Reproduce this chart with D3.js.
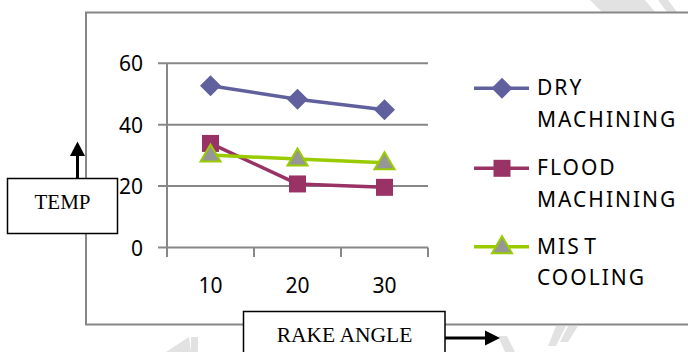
<!DOCTYPE html>
<html>
<head>
<meta charset="utf-8">
<script src="https://cdn.jsdelivr.net/npm/d3@7/dist/d3.min.js"></script>
<style>
  html, body { margin: 0; padding: 0; background: #fff; }
  svg { display: block; }
</style>
</head>
<body>
<svg id="chart" width="688" height="352"></svg>
<script>
// ---- data ----
const categories = ["10", "20", "30"];
const dryMachining = [52.7, 48.3, 44.9];
const floodMachining = [33.9, 20.7, 19.6];
const mistCooling = [30.1, 28.8, 27.6];
const yTicks = [0, 20, 40, 60];
const seriesNames = [["DRY", "MACHINING"], ["FLOOD", "MACHINING"], ["MIS T", "COOLING"]];
const xTitle = "RAKE ANGLE";
const yTitle = "TEMP";

const svg = d3.select("#chart");

// watermark fragments (light gray)
const wm = svg.append("g").attr("fill", "#e2e2e2");
[
  [[590,0],[645,0],[655,12],[602,12]],
  [[658,0],[668,0],[677,12],[667,12]],
  [[166,352],[189,337],[191,352]],
  [[191,337],[198,337],[198,352],[191,352]],
  [[498,336],[507,336],[515,352],[505,352]],
  [[556,326],[566,326],[556,346],[548,346]],
  [[568,326],[578,326],[568,342],[560,342]]
].forEach(p => wm.append("polygon").attr("points", p.map(d => d.join(",")).join(" ")));

// outer frame
svg.append("rect")
  .attr("x", 86).attr("y", 12.5).attr("width", 640).attr("height", 312)
  .attr("fill", "none").attr("stroke", "#878787").attr("stroke-width", 2);

// scales
const x = d3.scaleBand().domain(categories).range([167, 428]).paddingInner(0).paddingOuter(0);
const y = d3.scaleLinear().domain([0, 60]).range([247.5, 63.3]);

const gridColor = "#878787";
const plot = svg.append("g");

// gridlines (incl. baseline)
plot.selectAll("line.grid").data(yTicks).join("line")
  .attr("x1", 158).attr("x2", 428)
  .attr("y1", d => y(d)).attr("y2", d => y(d))
  .attr("stroke", gridColor).attr("stroke-width", 2);

// y axis
const yAxis = d3.axisLeft(y).tickValues(yTicks).tickSize(0).tickPadding(0).tickFormat(d3.format("d"));
const gy = plot.append("g").attr("transform", "translate(167,0)").call(yAxis);
gy.select(".domain").remove();
gy.selectAll("text")
  .attr("x", -24).attr("dy", "0.36em")
  .attr("font-family", "'Noto Sans', sans-serif").attr("font-size", 21).attr("fill", "#000");
plot.append("line").attr("x1", 167).attr("x2", 167).attr("y1", y(60)).attr("y2", 257)
  .attr("stroke", gridColor).attr("stroke-width", 2);

// x axis (ticks at category boundaries)
const bounds = categories.map(c => x(c)).concat([x(categories[categories.length - 1]) + x.bandwidth()]);
plot.selectAll("line.xtick").data(bounds.slice(1)).join("line")
  .attr("x1", d => d).attr("x2", d => d).attr("y1", y(0)).attr("y2", 257)
  .attr("stroke", gridColor).attr("stroke-width", 2);
const xAxis = d3.axisBottom(x).tickSize(0).tickPadding(0);
const gx = plot.append("g").attr("transform", `translate(0,${y(0)})`).call(xAxis);
gx.select(".domain").remove();
gx.selectAll("text")
  .attr("y", 45).attr("dy", 0)
  .attr("font-family", "'Noto Sans', sans-serif").attr("font-size", 21).attr("fill", "#000");

// series
const series = [
  { values: dryMachining, color: "#60609e", marker: "diamond" },
  { values: floodMachining, color: "#993366", marker: "square" },
  { values: mistCooling, color: "#99cc00", marker: "triangle" }
];

function drawMarker(g, type, cx, cy, s) {
  if (type === "diamond") {
    const r = 10.5;
    g.append("polygon").attr("points", `${cx},${cy - r} ${cx + r},${cy} ${cx},${cy + r} ${cx - r},${cy}`)
      .attr("fill", s.color);
  } else if (type === "square") {
    const h = 8.5;
    g.append("rect").attr("x", cx - h).attr("y", cy - h).attr("width", 2 * h).attr("height", 2 * h)
      .attr("fill", s.color);
  } else {
    const w = 10, ht = 17;
    g.append("polygon")
      .attr("points", `${cx},${cy - ht * 0.62} ${cx + w},${cy + ht * 0.38} ${cx - w},${cy + ht * 0.38}`)
      .attr("fill", "#969696").attr("stroke", s.color).attr("stroke-width", 2);
  }
}

const line = d3.line().x((d, i) => x(categories[i]) + x.bandwidth() / 2).y(d => y(d));
series.forEach(s => {
  const g = plot.append("g");
  g.append("path").datum(s.values).attr("d", line)
    .attr("fill", "none").attr("stroke", s.color).attr("stroke-width", 3.5);
  s.values.forEach((v, i) => drawMarker(g, s.marker, x(categories[i]) + x.bandwidth() / 2, y(v), s));
});

// legend
const legendY = [88.3, 168.3, 246.7];
const legend = svg.append("g");
series.forEach((s, i) => {
  const g = legend.append("g");
  g.append("line").attr("x1", 474).attr("x2", 529).attr("y1", legendY[i]).attr("y2", legendY[i])
    .attr("stroke", s.color).attr("stroke-width", 3.5);
  drawMarker(g, s.marker, 502, legendY[i], s);
  const t = g.append("text")
    .attr("font-family", "'Noto Sans', sans-serif").attr("font-size", 21)
    .attr("letter-spacing", 2).attr("word-spacing", -4).attr("fill", "#000");
  t.append("tspan").attr("x", 537).attr("y", legendY[i] + 7).text(seriesNames[i][0]);
  t.append("tspan").attr("x", 537).attr("y", legendY[i] + 38.5).text(seriesNames[i][1]);
});

// TEMP box + arrow
svg.append("line").attr("x1", 77.5).attr("x2", 77.5).attr("y1", 178).attr("y2", 154)
  .attr("stroke", "#000").attr("stroke-width", 3);
svg.append("polygon").attr("points", "70,156 85,156 77.5,141.5").attr("fill", "#000");
svg.append("rect").attr("x", 7.5).attr("y", 178.5).attr("width", 110).attr("height", 55)
  .attr("fill", "#fff").attr("stroke", "#000").attr("stroke-width", 1.5);
svg.append("text").attr("x", 62.5).attr("y", 208.5).attr("text-anchor", "middle")
  .attr("font-family", "'Liberation Serif', 'Times New Roman', serif").attr("font-size", 21)
  .attr("fill", "#000").text(yTitle);

// RAKE ANGLE box + arrow
svg.append("line").attr("x1", 445).attr("x2", 487).attr("y1", 338).attr("y2", 338)
  .attr("stroke", "#000").attr("stroke-width", 3);
svg.append("polygon").attr("points", "485,330.5 485,345.5 500,338").attr("fill", "#000");
svg.append("rect").attr("x", 243.5).attr("y", 311.5).attr("width", 201.5).attr("height", 60)
  .attr("fill", "#fff").attr("stroke", "#000").attr("stroke-width", 1.5);
svg.append("text").attr("x", 344.5).attr("y", 342).attr("text-anchor", "middle")
  .attr("font-family", "'Liberation Serif', 'Times New Roman', serif").attr("font-size", 21.5)
  .attr("fill", "#000").text(xTitle);
</script>
</body>
</html>
